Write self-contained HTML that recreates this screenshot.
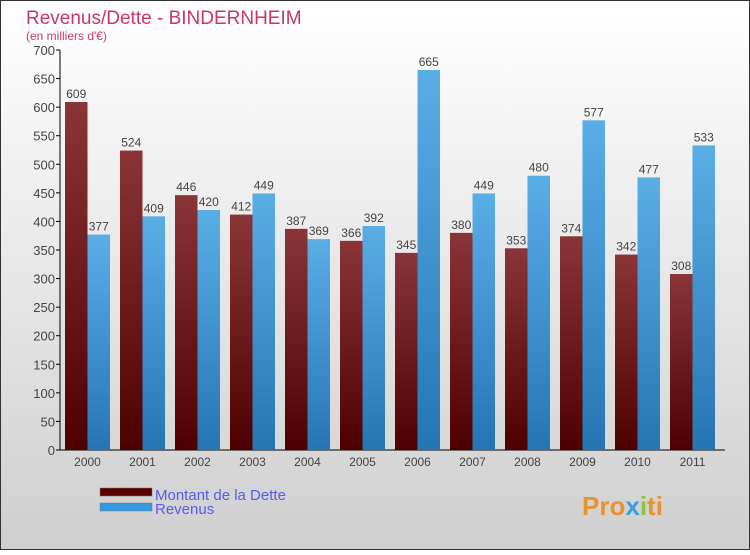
<!DOCTYPE html>
<html><head><meta charset="utf-8"><style>
body{margin:0;width:750px;height:550px;overflow:hidden;font-family:"Liberation Sans",sans-serif}
</style></head><body>
<svg width="750" height="550" xmlns="http://www.w3.org/2000/svg">
<defs>
<linearGradient id="bg" x1="0" y1="0" x2="0" y2="1"><stop offset="0" stop-color="#ffffff"/><stop offset="1" stop-color="#cfcfcf"/></linearGradient>
<linearGradient id="gd" x1="0" y1="0" x2="0" y2="1"><stop offset="0" stop-color="#8a3538"/><stop offset="1" stop-color="#4e0000"/></linearGradient>
<linearGradient id="gr" x1="0" y1="0" x2="0" y2="1"><stop offset="0" stop-color="#5aaee6"/><stop offset="1" stop-color="#2675b3"/></linearGradient>
</defs>
<rect x="0.5" y="0.5" width="749" height="549" fill="url(#bg)" stroke="#333"/>
<text x="26" y="24" font-size="19" fill="#c8386a">Revenus/Dette - BINDERNHEIM</text>
<text x="26" y="40" font-size="12" fill="#c8386a">(en milliers d'€)</text>
<g id="axes"></g>
<g id="bars"></g>
<rect x="100" y="488" width="52" height="8" fill="#5a0000" stroke="#777" stroke-width="0.5"/>
<text x="155" y="500" font-size="15" fill="#5a5af0">Montant de la Dette</text>
<rect x="100" y="503" width="52" height="8" fill="#3399e0" stroke="#777" stroke-width="0.5"/>
<text x="155" y="514" font-size="15" fill="#5a5af0">Revenus</text>
<text x="582" y="515" font-size="26" font-weight="bold" fill="#e8942a">Pro<tspan fill="#3aa0e0">x</tspan><tspan fill="#8cc63f">i</tspan>ti</text>
</svg>
<script>
const years=["2000","2001","2002","2003","2004","2005","2006","2007","2008","2009","2010","2011"];
const dette=[609,524,446,412,387,366,345,380,353,374,342,308];
const revenus=[377,409,420,449,369,392,665,449,480,577,477,533];
const yTicks=[0,50,100,150,200,250,300,350,400,450,500,550,600,650,700];
const NS="http://www.w3.org/2000/svg";
const x0=60,groupW=55,y0=450,yMax=700,plotH=400,barW=22.5;
const y=v=>y0-v/yMax*plotH;
const gx=i=>x0+5+i*groupW;
function mk(tag,attrs,parent){const e=document.createElementNS(NS,tag);for(const k in attrs)e.setAttribute(k,attrs[k]);parent.appendChild(e);return e;}
const ax=document.getElementById('axes'),bars=document.getElementById('bars');
yTicks.forEach(t=>{
 const l=mk('line',{x1:x0-4,x2:x0,y1:y(t),y2:y(t),stroke:'#000'},ax);
 
 
 const tx=mk('text',{x:x0-5,y:y(t)+5,'font-size':13,'text-anchor':'end',fill:'#444'},ax);
 tx.textContent=t;
 
 
});
years.forEach((yr,i)=>{
 const cx=gx(i)+barW;
 const tx=mk('text',{x:cx,y:y0+16,'font-size':12,'text-anchor':'middle',fill:'#444'},ax);
 tx.textContent=yr;
 
 
 const b1=mk('rect',{x:gx(i),y:y(dette[i]),width:barW,height:y0-y(dette[i]),fill:'url(#gd)'},bars);
 
 
 const b2=mk('rect',{x:gx(i)+barW,y:y(revenus[i]),width:barW,height:y0-y(revenus[i]),fill:'url(#gr)'},bars);
 
 
 const l1=mk('text',{x:gx(i)+barW/2,y:y(dette[i])-4,'font-size':12,'text-anchor':'middle',fill:'#444'},bars);
 l1.textContent=dette[i];
 
 
 const l2=mk('text',{x:gx(i)+barW*1.5,y:y(revenus[i])-4,'font-size':12,'text-anchor':'middle',fill:'#444'},bars);
 l2.textContent=revenus[i];
 
 
});
const ya=mk('line',{x1:x0,x2:x0,y1:y(yMax),y2:y0,stroke:'#000'},ax);


const xa=mk('line',{x1:x0,x2:x0+12*groupW+5,y1:y0,y2:y0,stroke:'#000'},ax);


</script>
</body></html>
